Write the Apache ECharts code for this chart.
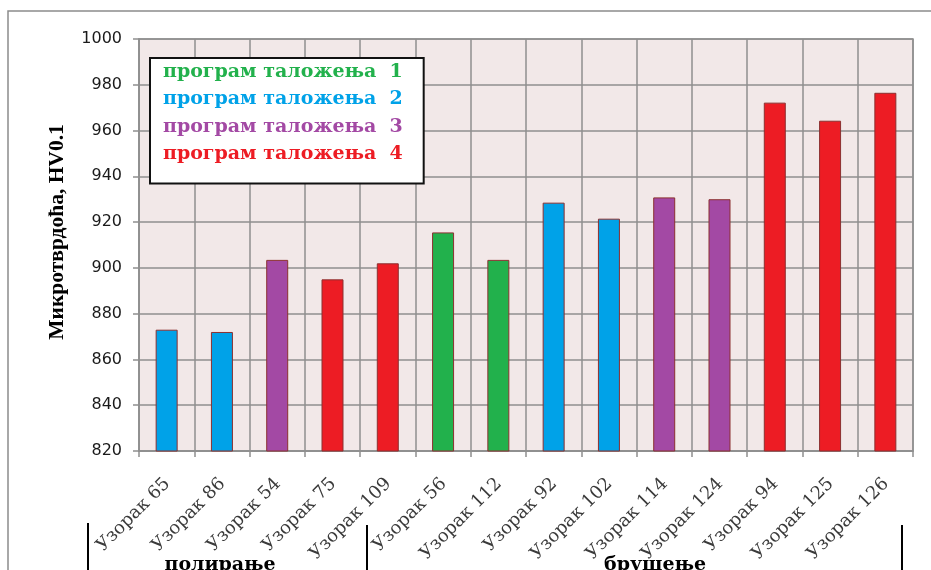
<!DOCTYPE html>
<html>
<head>
<meta charset="utf-8">
<script src="https://cdn.jsdelivr.net/npm/echarts@6/dist/echarts.min.js"></script>
<style>
html,body{margin:0;padding:0;background:#fff;}
#chart{width:931px;height:570px;}
</style>
</head>
<body>
<div id="chart"></div>
<script>
// ---- data ----
var categories = ['Узорак 65','Узорак 86','Узорак 54','Узорак 75','Узорак 109','Узорак 56','Узорак 112','Узорак 92','Узорак 102','Узорак 114','Узорак 124','Узорак 94','Узорак 125','Узорак 126'];
var hardness = [873, 872, 903.5, 895, 902, 915.5, 903.5, 928.5, 921.5, 930.8, 930, 972.2, 964.3, 976.5];
var program = [2, 2, 3, 4, 4, 1, 1, 2, 2, 3, 3, 4, 4, 4];
var programNames = ['програм таложења  1','програм таложења  2','програм таложења  3','програм таложења  4'];
var programColors = ['#22b14c','#00a2e8','#a349a4','#ed1c24'];
var yTicks = {min: 820, max: 1000, interval: 20};
var groups = ['полирање','брушење'];
var yName = 'Микротврдоћа, HV0.1';

var chart = echarts.init(document.getElementById('chart'), null, {renderer:'canvas'});

var series = programNames.map(function(name, p){
  return {
    name: name,
    type: 'bar',
    barWidth: 22,
    barGap: '-100%',
    itemStyle: {color: programColors[p], borderColor: '#8b3030', borderWidth: 1},
    data: hardness.map(function(v, i){ return program[i] === p + 1 ? v : null; })
  };
});

var gridColor = '#8f8f8f';

chart.setOption({
  animation: false,
  backgroundColor: '#fff',
  grid: {left: 139, right: 18, top: 39, bottom: 119, show: true, backgroundColor: '#f2e8e8', borderColor: gridColor, borderWidth: 1.5},
  legend: {
    orient: 'vertical',
    left: 150, top: 58,
    icon: 'none',
    itemWidth: 0, itemHeight: 20,
    itemGap: 7.5,
    padding: [4, 21, 19, 8],
    backgroundColor: '#fff',
    borderColor: '#111',
    borderWidth: 2,
    selectedMode: false,
    textStyle: {fontFamily: 'DejaVu Serif', fontWeight: 'bold', fontSize: 19, lineHeight: 20},
    data: programNames.map(function(n, p){ return {name: n, textStyle: {color: programColors[p]}}; })
  },
  xAxis: {
    type: 'category',
    data: categories,
    axisLine: {show: true, lineStyle: {color: gridColor, width: 1.5}},
    axisTick: {show: true, length: 6, interval: 0, lineStyle: {color: gridColor, width: 1.5}},
    splitLine: {show: true, interval: 0, lineStyle: {color: gridColor, width: 1.5}},
    axisLabel: {interval: 0, rotate: 45, margin: 18, verticalAlign: 'top', padding: [0, 8, 0, 0], color: '#3a3a3a', fontFamily: 'DejaVu Serif', fontSize: 18}
  },
  yAxis: {
    type: 'value',
    min: yTicks.min, max: yTicks.max, interval: yTicks.interval,
    name: yName,
    nameLocation: 'middle',
    nameRotate: 90,
    nameGap: 71,
    nameTextStyle: {fontFamily: 'Liberation Serif', fontWeight: 'bold', fontSize: 21.5, color: '#000', padding: [0, 0, 0, 26]},
    axisLine: {show: true, lineStyle: {color: gridColor, width: 1.5}},
    axisTick: {show: true, length: 6, lineStyle: {color: gridColor, width: 1.5}},
    splitLine: {show: true, lineStyle: {color: gridColor, width: 1.5}},
    axisLabel: {margin: 17, color: '#1a1a1a', fontFamily: 'DejaVu Sans', fontSize: 16, formatter: function(v){ return String(v); }}
  },
  graphic: [
    {type: 'rect', shape: {x: 8, y: 11, width: 1000, height: 700}, style: {fill: 'none', stroke: '#8c8c8c', lineWidth: 1.5}, z: -10},
    {type: 'line', shape: {x1: 88, y1: 523, x2: 88, y2: 570}, style: {stroke: '#000', lineWidth: 2}},
    {type: 'line', shape: {x1: 367, y1: 525, x2: 367, y2: 570}, style: {stroke: '#000', lineWidth: 2}},
    {type: 'line', shape: {x1: 902, y1: 525, x2: 902, y2: 570}, style: {stroke: '#000', lineWidth: 2}},
    {type: 'text', x: 220, y: 575, style: {text: groups[0], textAlign: 'center', textVerticalAlign: 'bottom', font: 'bold 19px "DejaVu Serif"', fill: '#000'}},
    {type: 'text', x: 655, y: 575, style: {text: groups[1], textAlign: 'center', textVerticalAlign: 'bottom', font: 'bold 19px "DejaVu Serif"', fill: '#000'}}
  ],
  series: series
});
</script>
</body>
</html>
